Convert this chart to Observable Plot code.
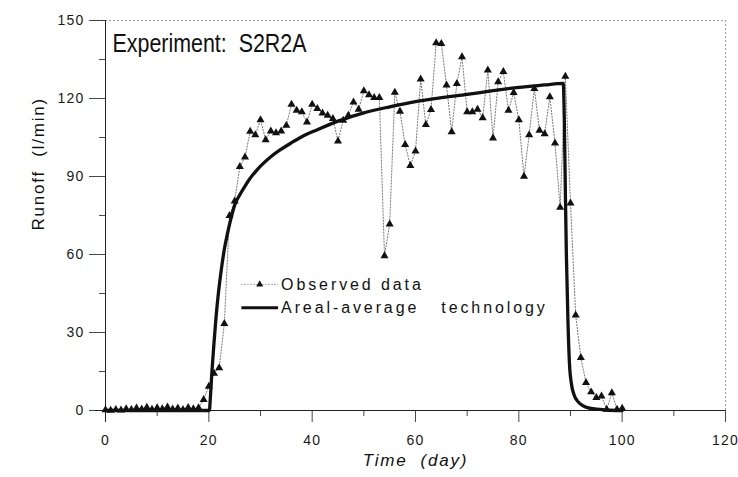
<!DOCTYPE html>
<html><head><meta charset="utf-8">
<script src="https://cdn.jsdelivr.net/npm/d3@7"></script>
<script src="https://cdn.jsdelivr.net/npm/@observablehq/plot@0.6"></script>
<style>
html,body{margin:0;padding:0;background:#fff;}
svg{white-space:pre;}
</style></head><body><div id="chart"></div>
<script>
// ---- data ----
const titleText = "Experiment:  S2R2A";
const xTitle = "Time  (day)";
const yTitle = "Runoff  (l/min)";
const legendLabels = ["Observed data", "Areal-average   technology"];
const xMajor = [0, 20, 40, 60, 80, 100, 120];
const xMinor = [10, 30, 50, 70, 90, 110];
const yMajor = [0, 30, 60, 90, 120, 150];
const yMinor = [15, 45, 75, 105, 135];

const obsDays = d3.range(0, 101);
const obsValues = [
  0.2, 0, 0.3, 0.1, 0.6, 0.3, 0.9, 0.5, 1.2, 0.4, 1.0, 0.6, 1.3, 0.5, 0.9, 0.3, 1.1, 0.6, 1.0,
  4.2, 9.3, 14.3, 16.4, 33.4, 74.9, 80.5, 93.8, 97.4, 107.3, 106.0,
  111.8, 104.1, 107.4, 106.8, 107.4, 109.6, 117.7, 115.4, 114.8, 110.9,
  117.7, 116.1, 114.4, 113.5, 112.2, 103.6, 111.6, 113.5, 118.6, 115.8,
  122.9, 121.4, 120.3, 120.3, 59.5, 71.7, 122.3, 115.0, 102.2, 94.2,
  99.7, 127.4, 109.9, 115.7, 141.4, 141.1, 125.1, 107.1, 125.7, 136.0,
  114.8, 114.8, 115.8, 112.5, 130.9, 104.7, 126.4, 130.3, 115.4, 122.2,
  111.8, 90.0, 106.0, 123.8, 107.7, 106.4, 120.6, 102.8, 78.1, 128.5,
  79.7, 36.7, 20.3, 10.7, 7.1, 4.9, 5.5, 0.4, 6.8, 0.4, 0.8
];

const modelDays = [0, 20.1, 20.3, 20.6, 21.0, 21.4, 21.9, 22.4, 23.0, 23.6, 24.3, 25, 26, 27, 28, 29, 30, 32, 34, 36, 38, 41, 45, 50, 55, 60, 65, 70, 75, 80, 85, 88.6, 88.8, 89.0, 89.2, 89.5, 89.8, 90.2, 90.7, 91.4, 92.3, 93.5, 95, 97, 100];
const modelValues = [0, 0, 5, 15, 26, 36, 46, 54, 62, 68, 74, 79, 83, 86.3, 89.3, 91.8, 94, 97.6, 100.5, 103, 105.3, 108, 111.3, 114.5, 116.8, 118.8, 120.3, 121.6, 123, 124.3, 125.2, 125.8, 112, 85, 60, 35, 18, 10, 6, 3.5, 2, 1, 0.5, 0.2, 0];

const obs = obsDays.map((d, i) => ({day: d, runoff: obsValues[i]}));
const model = modelDays.map((d, i) => ({day: d, runoff: modelValues[i]}));
const legend = [
  {x1: 26.3, x2: 33.4, y: 48.5, label: legendLabels[0]},
  {x1: 26.3, x2: 33.4, y: 39.5, label: legendLabels[1]}
];

const font = "'Liberation Sans', Arial, Helvetica, sans-serif";

const chart = Plot.plot({
  width: 738, height: 477,
  marginLeft: 105, marginRight: 13, marginTop: 20, marginBottom: 67,
  x: {domain: [0, 120], label: null},
  y: {domain: [0, 150], label: null},
  style: {fontFamily: font, fontSize: "14px", color: "#1a1a1a", background: "#fff", overflow: "visible"},
  marks: [
    // frame (dotted top and right)
    Plot.ruleY([150], {stroke: "#999", strokeDasharray: "2,2", strokeWidth: 1, insetLeft: -12}),
    Plot.ruleX([120], {stroke: "#999", strokeDasharray: "2,2", strokeWidth: 1}),
    // axes
    Plot.axisX({ticks: xMinor, tickSize: 6, text: null, strokeWidth: 0.8}),
    Plot.axisX({ticks: xMajor, tickSize: 12, tickPadding: 13, tickFormat: d => d, strokeWidth: 0.8, fontSize: 14}),
    Plot.axisY({ticks: yMinor, tickSize: 6, text: null, strokeWidth: 0.8}),
    Plot.axisY({ticks: yMajor, tickSize: 16, tickPadding: 5, tickFormat: d => d, strokeWidth: 0.8, fontSize: 14}),
    Plot.ruleX([0], {stroke: "#222", strokeWidth: 1, insetBottom: -12}),
    Plot.ruleY([0], {stroke: "#222", strokeWidth: 1, insetLeft: -10}),
    // observed
    Plot.line(obs, {x: "day", y: "runoff", stroke: "#666", strokeWidth: 0.9, strokeDasharray: "1.2,1.8"}),
    Plot.dot(obs, {x: "day", y: "runoff", symbol: "triangle", r: 3, fill: "#111", stroke: "none"}),
    // model
    Plot.line(model, {x: "day", y: "runoff", stroke: "#111", strokeWidth: 3.3, curve: "monotone-x"}),
    // legend
    Plot.link(legend.slice(0, 1), {x1: "x1", x2: "x2", y1: "y", y2: "y", stroke: "#666", strokeWidth: 0.9, strokeDasharray: "1.2,1.8"}),
    Plot.dot(legend.slice(0, 1), {x: d => (d.x1 + d.x2) / 2, y: "y", symbol: "triangle", r: 2.6, fill: "#111"}),
    Plot.link(legend.slice(1), {x1: "x1", x2: "x2", y1: "y", y2: "y", stroke: "#111", strokeWidth: 3}),
    Plot.text(legend, {x: "x2", y: "y", text: "label", dx: 3, textAnchor: "start", fontSize: 16, fill: "#111"}),
    // titles
    Plot.text([titleText], {frameAnchor: "top-left", dx: 7, dy: 14, lineAnchor: "top", textAnchor: "start", fontSize: 25, fill: "#111"}),
    Plot.text([yTitle], {frameAnchor: "left", dx: -67, dy: 15, rotate: -90, fontSize: 17, fill: "#111"}),
    Plot.text([xTitle], {frameAnchor: "bottom", dy: 55, fontSize: 17, fontStyle: "italic", fill: "#111"})
  ]
});

document.getElementById("chart").appendChild(chart);
const s = d3.select(chart);
s.selectAll("text").each(function() {
  const t = this.textContent;
  const el = d3.select(this);
  if (t === titleText) el.attr("textLength", 194).attr("lengthAdjust", "spacingAndGlyphs");
  else if (legendLabels.includes(t)) el.style("letter-spacing", "2.9px");
  else if (t === xTitle || t === yTitle) el.style("letter-spacing", "1.8px");
  else el.style("letter-spacing", "1.2px");
});
</script></body></html>
